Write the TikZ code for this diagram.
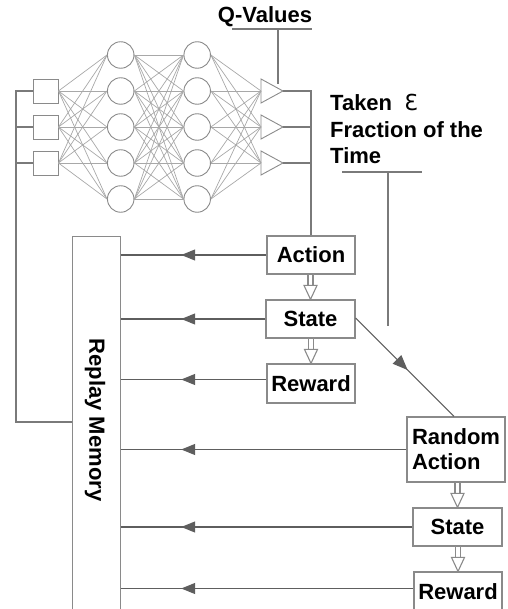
\documentclass[tikz,border=0pt]{standalone}
\usepackage{fontspec}
\setmainfont{Liberation Sans}
\newfontfamily\dvs{DejaVu Sans}
\usetikzlibrary{arrows.meta,decorations.markings,calc}
\definecolor{netgray}{HTML}{A8A8A8}
\definecolor{boxgray}{HTML}{8A8A8A}
\definecolor{conngray}{HTML}{7A7A7A}
\definecolor{arrgray}{HTML}{5E5E5E}
\newcommand\holarrow[2]{%
  \path (#1.south -| #2.north) coordinate (h1) (#2.north) coordinate (h2);
  \draw[hol] ([xshift=-2.5pt]h1) -- ([xshift=-2.5pt,yshift=14pt]h2)
             ([xshift=2.5pt]h1) -- ([xshift=2.5pt,yshift=14pt]h2);
  \draw[hol] ([xshift=-6.5pt,yshift=14pt]h2) -- (h2) -- ([xshift=6.5pt,yshift=14pt]h2) -- cycle;
}
\begin{document}
\begin{tikzpicture}[x=1pt,y=-1pt,
  txt/.style={font=\bfseries\fontsize{22}{25}\selectfont},
  net/.style={draw=netgray,line width=0.7pt},
  neuron/.style={circle,draw=boxgray,line width=0.9pt,minimum size=26.5pt,inner sep=0pt},
  inp/.style={rectangle,draw=boxgray,line width=0.9pt,minimum width=25pt,minimum height=24pt,inner sep=0pt},
  tri/.style={draw=boxgray,line width=0.9pt},
  conn/.style={draw=conngray,line width=1.1pt},
  box/.style={draw=boxgray,line width=1.2pt,txt,inner sep=0pt,align=center},
  hol/.style={draw=boxgray,line width=1.1pt,fill=white},
  tomem/.style={draw=arrgray,line width=1.2pt,postaction={decorate},
    decoration={markings,mark=at position -60pt with {\arrow[arrgray]{Triangle[length=14pt,width=11pt]}}}},
  diag/.style={draw=arrgray,line width=1.1pt,postaction={decorate},
    decoration={markings,mark=at position 0.53 with {\arrow[arrgray]{Triangle[length=15pt,width=12pt]}}}}
]
\useasboundingbox (0,0) rectangle (507,609);
\clip (0,0) rectangle (507,609);

% network
\foreach \i/\y in {1/91,2/127,3/163} {\node[inp] (s\i) at (45.5,\y) {};}
\foreach \i/\y in {1/55,2/91,3/127,4/163,5/199} {
  \node[neuron] (a\i) at (120.7,\y) {};
  \node[neuron] (b\i) at (197.2,\y) {};
}
\foreach \i/\y in {1/91,2/127,3/163} {
  \coordinate (tw\i) at (261,\y);
  \coordinate (tt\i) at (283,\y);
  \draw[tri] (261,\y-12) -- (tt\i) -- (261,\y+12) -- cycle;
}
\foreach \i in {1,2,3} \foreach \j in {1,...,5} \draw[net] (s\i.east) -- (a\j.west);
\foreach \i in {1,...,5} \foreach \j in {1,...,5} \draw[net] (a\i.east) -- (b\j.west);
\foreach \i in {1,...,5} \foreach \j in {1,2,3} \draw[net] (b\i.east) -- (tw\j);

% Q-values label
\node[txt,anchor=base,inner sep=0pt] (qv) at (265,23) {Q-Values};
\coordinate (qa) at (232,29);
\coordinate (qb) at (312,29);
\coordinate (qc) at (278,29);
\coordinate (qd) at (278,84);
\draw[conn] (qa) -- (qb);
\draw[conn] (qc) -- (qd);

% Taken epsilon label
\node[anchor=north west,align=left,inner sep=0pt,font=\bfseries\fontsize{22}{26.5}\selectfont] (taken) at (330,94)
  {Taken\ \ {\dvs\mdseries Ɛ}\\Fraction of the\\Time};
\coordinate (ta) at (342,172);
\coordinate (tb) at (422,172);
\coordinate (tc) at (388,172);
\coordinate (td) at (388,326);
\draw[conn] (ta) -- (tb);
\draw[conn] (tc) -- (td);

% replay memory
\node[draw=boxgray,line width=1.2pt,minimum width=48pt,minimum height=420pt,anchor=north west,inner sep=0pt] (mem) at (72,236) {};
\node[txt,rotate=-90,inner sep=0pt] (memlabel) at (95,420) {Replay Memory};

% boxes
\node[box,minimum width=88pt,minimum height=38pt] (action) at (311,255) {Action};
\node[box,minimum width=89pt,minimum height=38pt] (state) at (310.5,319) {State};
\node[box,minimum width=88pt,minimum height=39pt] (reward) at (311,383.5) {Reward};
\node[box,minimum width=98pt,minimum height=65pt,align=left] (rand) at (456,449.5) {Random\\Action};
\node[box,minimum width=89pt,minimum height=38pt] (state2) at (457.5,527) {State};
\node[box,minimum width=88pt,minimum height=39pt] (reward2) at (458,591.5) {Reward};

% output connectors
\draw[conn] (tt1) -| (action.north);
\draw[conn] (tt2) -- (tt2 -| action.north);
\draw[conn] (tt3) -- (tt3 -| action.north);

% input bracket
\coordinate (lb) at (16,422);
\draw[conn] (s1.west) -- (s1.west -| lb) -- (lb) -- (lb -| mem.west);
\draw[conn] (s2.west) -- (s2.west -| lb);
\draw[conn] (s3.west) -- (s3.west -| lb);

% arrows to memory
\draw[tomem] (action.west) -- (action.west -| mem.east);
\draw[tomem] (state.west) -- (state.west -| mem.east);
\draw[tomem] ([yshift=4pt]reward.west) -- ([yshift=4pt]reward.west -| mem.east);
\draw[tomem] (rand.west) -- (rand.west -| mem.east);
\draw[tomem] (state2.west) -- (state2.west -| mem.east);
\draw[tomem] ([yshift=3pt]reward2.west) -- ([yshift=3pt]reward2.west -| mem.east);

% diagonal
\draw[diag] ([yshift=1pt]state.east) -- ([xshift=-2pt]rand.north);

% hollow arrows
\holarrow{action}{state}
\holarrow{state}{reward}
\holarrow{rand}{state2}
\holarrow{state2}{reward2}
\end{tikzpicture}
\end{document}
